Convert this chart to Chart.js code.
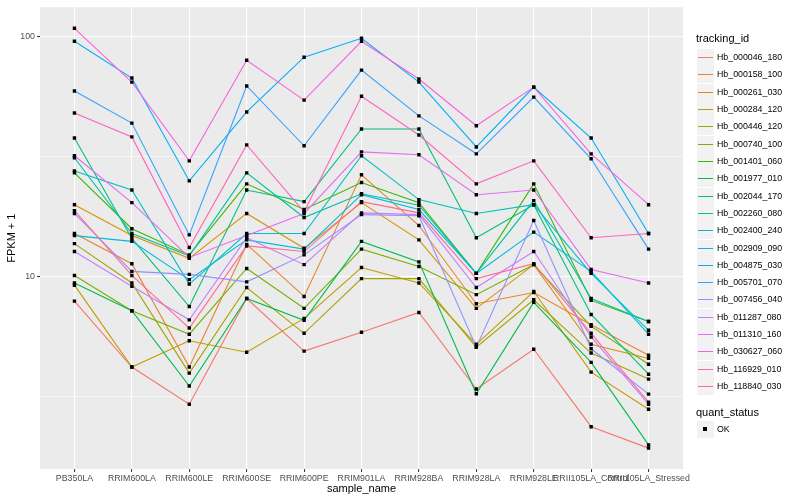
<!DOCTYPE html>
<html><head><meta charset="utf-8">
<script src="https://cdn.jsdelivr.net/npm/chart.js@4"></script>
<style>
html,body{margin:0;padding:0;background:#fff;}
#wrap{position:relative;width:800px;height:500px;font-family:"Liberation Sans",Arial,sans-serif;overflow:hidden;}
#c{position:absolute;left:0;top:0;}
.lt{position:absolute;left:696px;font-size:11px;color:#000;line-height:13px;white-space:nowrap;}
.key{position:absolute;left:697px;width:17px;height:17px;background:#F2F2F2;}
.kl{position:absolute;left:1px;width:15px;top:7.5px;height:1.6px;}
.kp{position:absolute;left:6px;top:6px;width:4px;height:4px;background:#000;}
.tx{position:absolute;left:717px;font-size:8.8px;color:#000;line-height:10px;white-space:nowrap;}
</style></head><body>
<div id="wrap"><canvas id="c" width="800" height="500"></canvas><div id="legend"></div></div>
<script>
const categories = ["PB350LA","RRIM600LA","RRIM600LE","RRIM600SE","RRIM600PE","RRIM901LA","RRIM928BA","RRIM928LA","RRIM928LE","RRII105LA_Control","RRII105LA_Stressed"];
const trackingIds = ["Hb_000046_180","Hb_000158_100","Hb_000261_030","Hb_000284_120","Hb_000446_120","Hb_000740_100","Hb_001401_060","Hb_001977_010","Hb_002044_170","Hb_002260_080","Hb_002400_240","Hb_002909_090","Hb_004875_030","Hb_005701_070","Hb_007456_040","Hb_011287_080","Hb_011310_160","Hb_030627_060","Hb_116929_010","Hb_118840_030"];
const qualityLevels = ["OK"];
const yTickValues = [3.1623, 10, 31.623, 100];
const yTickLabels = ["", "10", "", "100"];

const hb_000046_180 = [7.9, 4.2, 2.94, 8.1, 4.89, 5.86, 7.08, 3.40, 4.98, 2.37, 1.93];
const hb_000158_100 = [15.1, 11.3, 4.2, 13.6, 8.26, 26.5, 16.3, 7.7, 8.58, 6.3, 4.70];
const hb_000261_030 = [19.9, 14.8, 11.9, 18.3, 13.1, 20.3, 14.2, 7.37, 11.2, 5.22, 4.56];
const hb_000284_120 = [9.2, 4.2, 5.4, 4.84, 6.69, 10.9, 9.4, 5.22, 8.66, 4.0, 2.80];
const hb_000446_120 = [13.7, 9.4, 3.96, 9.0, 5.8, 9.8, 9.8, 5.08, 8.0, 4.8, 3.74];
const hb_000740_100 = [10.1, 7.2, 5.75, 10.8, 7.37, 13.0, 11.0, 8.4, 11.2, 6.2, 4.31];
const hb_001401_060 = [27.0, 15.8, 12.3, 24.3, 19.0, 24.6, 20.3, 10.3, 24.3, 7.95, 6.5];
const hb_001977_010 = [9.4, 7.2, 3.5, 8.1, 6.57, 14.0, 11.5, 3.25, 7.8, 4.39, 1.99];
const hb_002044_170 = [37.7, 14.4, 7.5, 22.9, 20.5, 41.1, 41.1, 14.5, 19.9, 6.95, 3.92];
const hb_002260_080 = [31.2, 15.1, 12.2, 27.0, 17.6, 22.1, 19.8, 10.3, 20.7, 8.1, 6.5];
const hb_002400_240 = [27.5, 22.9, 9.3, 15.1, 15.1, 31.8, 20.9, 18.3, 19.9, 10.3, 5.97];
const hb_002909_090 = [14.8, 14.0, 9.7, 14.2, 13.0, 21.9, 19.0, 10.3, 15.3, 10.5, 5.75];
const hb_004875_030 = [95.3, 67.0, 25.0, 48.4, 81.8, 98.1, 64.4, 34.6, 61.4, 37.7, 15.1];
const hb_005701_070 = [59.2, 43.5, 14.9, 62.1, 35.0, 72.3, 46.6, 32.4, 55.8, 30.9, 13.0];
const hb_007456_040 = [18.3, 10.5, 10.2, 9.5, 12.3, 18.1, 17.9, 5.08, 17.1, 5.0, 3.24];
const hb_011287_080 = [12.7, 9.1, 6.6, 14.5, 11.2, 18.4, 18.1, 9.0, 12.7, 5.6, 2.94];
const hb_011310_160 = [31.8, 20.3, 12.0, 14.8, 18.3, 33.0, 32.1, 21.9, 22.9, 10.7, 9.4];
const hb_030627_060 = [107.9, 64.4, 30.3, 79.4, 54.2, 95.3, 66.4, 42.4, 61.4, 32.4, 19.9];
const hb_116929_010 = [47.9, 38.1, 13.2, 35.3, 18.6, 56.3, 38.8, 24.3, 30.3, 14.5, 15.1];
const hb_118840_030 = [18.8, 10.1, 6.1, 13.4, 12.7, 20.5, 18.4, 9.8, 11.3, 5.8, 3.0];

const seriesValues = [hb_000046_180, hb_000158_100, hb_000261_030, hb_000284_120, hb_000446_120, hb_000740_100, hb_001401_060, hb_001977_010, hb_002044_170, hb_002260_080, hb_002400_240, hb_002909_090, hb_004875_030, hb_005701_070, hb_007456_040, hb_011287_080, hb_011310_160, hb_030627_060, hb_116929_010, hb_118840_030];
const seriesColors = ["#F8766D","#EA8331","#D89000","#C09B00","#A3A500","#7CAE00","#39B600","#00BB4E","#00BF7D","#00C1A3","#00BFC4","#00BAE0","#00B0F6","#35A2FF","#9590FF","#C77CFF","#E76BF3","#FA62DB","#FF62BC","#FF6C91"];

const FONT = '"Liberation Sans", Arial, sans-serif';

const panelBg = {
  id: 'panelBg',
  beforeDraw(chart) {
    const {ctx, chartArea: a} = chart;
    ctx.save();
    ctx.fillStyle = '#EBEBEB';
    ctx.fillRect(a.left, a.top, a.right - a.left, a.bottom - a.top);
    ctx.restore();
  }
};

const datasets = seriesValues.map((vals, i) => ({
  label: trackingIds[i],
  data: vals.map((v, j) => ({x: j, y: v})),
  borderColor: seriesColors[i],
  backgroundColor: seriesColors[i],
  borderWidth: 1.1,
  pointRadius: 0,
  fill: false,
  tension: 0,
  order: 100 - i
}));
datasets.push({
  label: qualityLevels[0],
  data: seriesValues.flatMap(vals => vals.map((v, j) => ({x: j, y: v}))),
  showLine: false,
  pointStyle: 'rect',
  pointRadius: 2.4,
  pointBorderWidth: 0,
  pointBackgroundColor: '#000000',
  borderColor: '#000000',
  order: 0
});

new Chart(document.getElementById('c'), {
  type: 'line',
  data: {datasets},
  plugins: [panelBg],
  options: {
    responsive: false,
    animation: false,
    events: [],
    layout: {padding: {left: 0, right: 117, top: 5, bottom: 0}},
    plugins: {legend: {display: false}, tooltip: {enabled: false}},
    scales: {
      x: {
        type: 'linear', min: -0.6, max: 10.6,
        afterBuildTicks: s => { s.ticks = categories.map((c, i) => ({value: i})); },
        afterFit: s => { s.height = 31; },
        ticks: {autoSkip: false, maxRotation: 0, minRotation: 0, padding: 1, color: '#4D4D4D',
                font: {family: FONT, size: 8.8}, callback: v => categories[v]},
        grid: {color: '#FFFFFF', lineWidth: 1.1, drawTicks: true, tickLength: 3, tickColor: '#333333', tickWidth: 1},
        border: {display: false},
        title: {display: true, text: 'sample_name', color: '#000000', font: {family: FONT, size: 11}, padding: {top: 0, bottom: 4}}
      },
      y: {
        type: 'logarithmic', min: 1.58, max: 132,
        afterBuildTicks: s => { s.ticks = yTickValues.map(v => ({value: v})); },
        afterFit: s => { s.width = 40; },
        ticks: {autoSkip: false, padding: 2, color: '#4D4D4D', font: {family: FONT, size: 8.8},
                callback: (v, i) => yTickLabels[yTickValues.indexOf(v)] ?? ''},
        grid: {
          color: '#FFFFFF',
          lineWidth: ctx => (yTickLabels[ctx.index] ? 1.1 : 0.55),
          drawTicks: true, tickLength: 3, tickWidth: 1,
          tickColor: ctx => (yTickLabels[ctx.index] ? '#333333' : 'rgba(0,0,0,0)')
        },
        border: {display: false},
        title: {display: true, text: 'FPKM + 1', color: '#000000', font: {family: FONT, size: 11}, padding: {top: 5, bottom: 0}}
      }
    }
  }
});

// legend (ggplot-style, right side)
const lg = document.getElementById('legend');
function add(html) { lg.insertAdjacentHTML('beforeend', html); }
add(`<div class="lt" style="top:${38 - 6.5}px">tracking_id</div>`);
trackingIds.forEach((id, k) => {
  const cy = Math.round(57 + 17.32 * k);
  add(`<div class="key" style="top:${cy - 8}px"><div class="kl" style="background:${seriesColors[k]}"></div></div>`);
  add(`<div class="tx" style="top:${cy - 5}px">${id}</div>`);
});
add(`<div class="lt" style="top:${412 - 6.5}px">quant_status</div>`);
add(`<div class="key" style="top:${429 - 8}px"><div class="kp"></div></div>`);
add(`<div class="tx" style="top:${429 - 5}px">${qualityLevels[0]}</div>`);
</script>
</body></html>
